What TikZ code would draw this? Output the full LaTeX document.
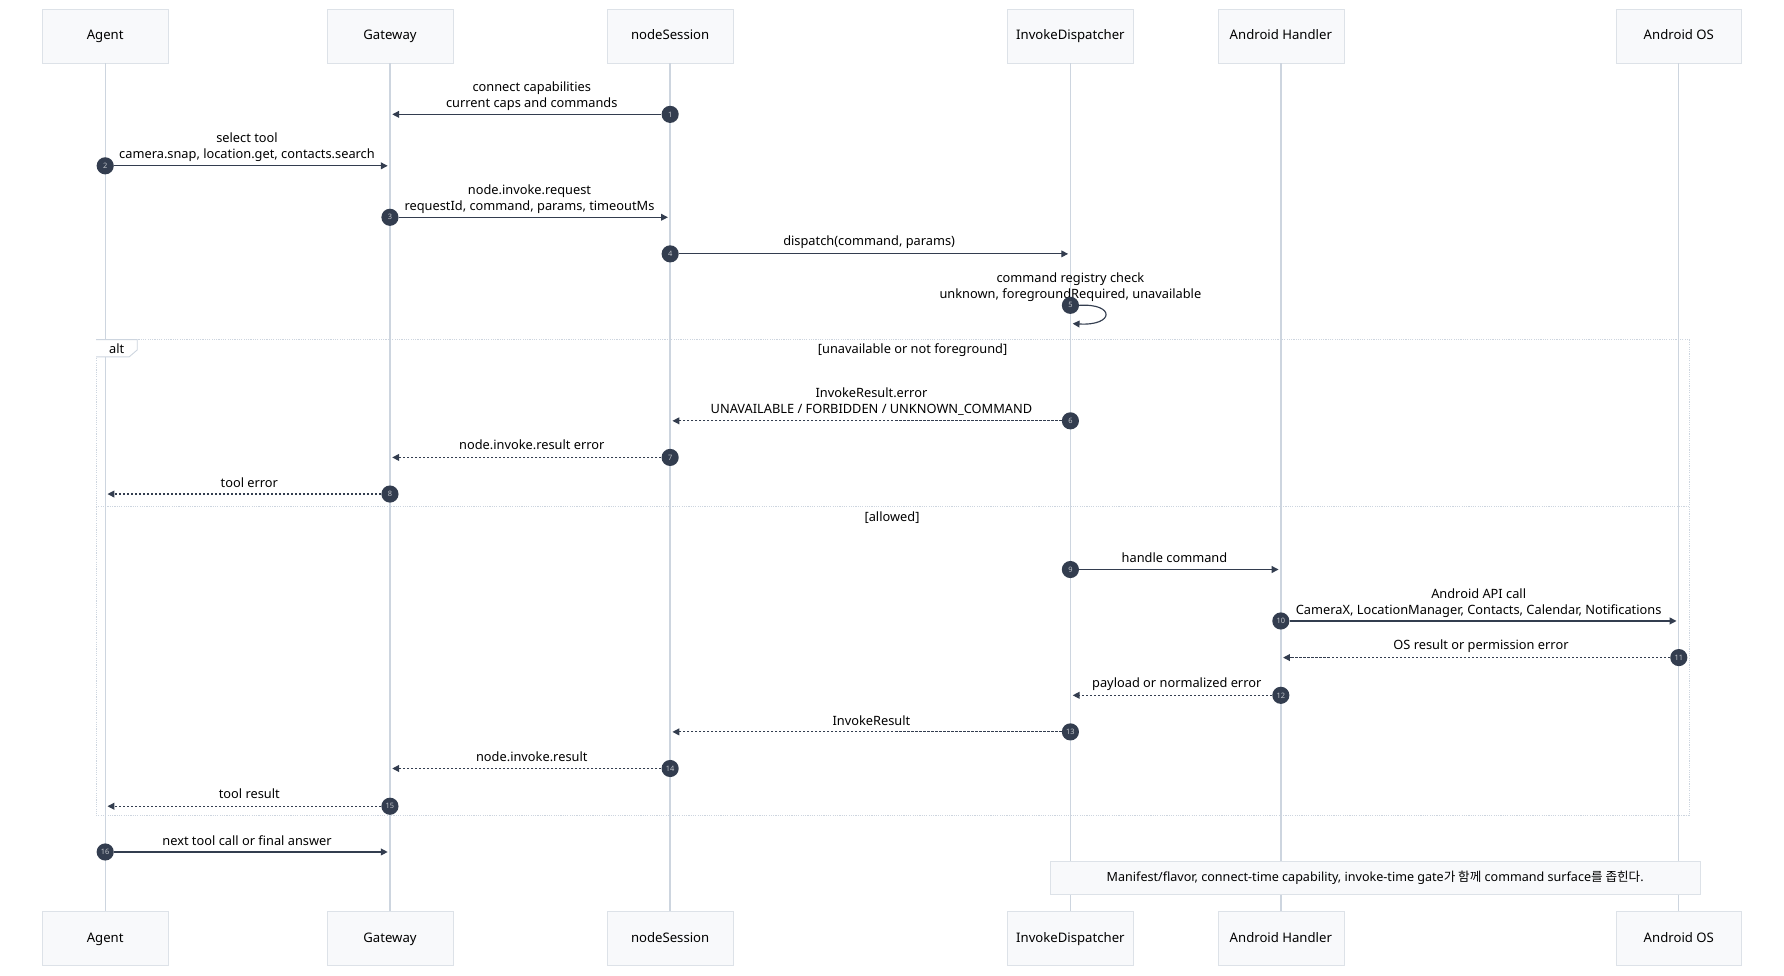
\documentclass[tikz,border=0pt]{standalone}
\usepackage{fontspec}
\setmainfont{Noto Sans}
\newfontfamily\cjk{Noto Sans CJK KR}
\usetikzlibrary{arrows.meta}
\definecolor{boxfill}{HTML}{F8F9FB}
\definecolor{boxline}{HTML}{DDE2E8}
\definecolor{life}{HTML}{CDD5DF}
\definecolor{ink}{HTML}{333D4F}
\begin{document}
\begin{tikzpicture}[x=1pt,y=-1pt,
  actor/.style={draw=boxline,fill=boxfill,minimum width=110pt,minimum height=47pt,font=\fontsize{11.5}{13}\selectfont,inner sep=0pt,text height=1.6ex,text depth=0.4ex},
  lifeline/.style={draw=life,line width=1.2pt},
  msg/.style={draw=ink,line width=1pt,-{Triangle[length=6pt,width=6pt]}},
  rmsg/.style={msg,dash pattern=on 2pt off 1.5pt},
  num/.style={circle,fill=ink,inner sep=0pt,minimum size=15pt,text=white!70!ink,font=\fontsize{6.5}{6.5}\selectfont},
  lbl/.style={font=\fontsize{11.2}{14}\selectfont,align=center,inner sep=0pt},
  frameline/.style={draw=life,dash pattern=on 1pt off 1pt,line width=0.8pt}]
\useasboundingbox (0,0) rectangle (1560,853);
% actors
\foreach \n/\x/\t in {a/92/Agent,g/341/Gateway,s/586/nodeSession,d/936/InvokeDispatcher,h/1120/Android Handler,o/1468/Android OS}{
  \node[actor] (\n T) at (\x,31.5) {\t};
  \node[actor] (\n B) at (\x,820.5) {\t};
  \draw[lifeline] (\n T.south) -- (\n B.north);
}
% alt frame
\draw[frameline] (84,297) rectangle (1477,713);
\draw[frameline] (84,443) -- (1477,443);
\draw[draw=life,fill=white,line width=0.8pt] (84,297) -- (120,297) -- (120,306) -- (113,312) -- (84,312);
\node[lbl] (altl) at (102,305) {alt};
\node[lbl] (c1) at (798,306) {[unavailable or not foreground]};
\node[lbl] (c2) at (780,453) {[allowed]};
% messages
\newcommand{\mymsg}[6]{% style, fromx, tox, y, num, label
  \node[num] (n#5) at (#2,#4) {#5};
  \coordinate (e#5) at (#3,#4);
  \draw[#1] (n#5) -- (e#5);
}
\mymsg{msg}{586}{343}{100}{1}{}
\node[lbl] (l1) at (465,84) {connect capabilities\\current caps and commands};
\mymsg{msg}{92}{339}{145}{2}{}
\node[lbl] (l2) at (216,129) {select tool\\camera.snap, location.get, contacts.search};
\mymsg{msg}{341}{584}{190}{3}{}
\node[lbl] (l3) at (463,174) {node.invoke.request\\requestId, command, params, timeoutMs};
\mymsg{msg}{586}{934}{222}{4}{}
\node[lbl] (l4) at (760,212) {dispatch(command, params)};
\node[lbl] (l5) at (936,251) {command registry check\\unknown, foregroundRequired, unavailable};
\node[num] (n5) at (936,267) {5};
\coordinate (e5) at (938,283);
\draw[msg] (n5.east) .. controls (975,265) and (975,285) .. (e5);
\mymsg{rmsg}{936}{588}{368}{6}{}
\node[lbl] (l6) at (762,351) {InvokeResult.error\\UNAVAILABLE / FORBIDDEN / UNKNOWN\_COMMAND};
\mymsg{rmsg}{586}{343}{400}{7}{}
\node[lbl] (l7) at (465,389) {node.invoke.result error};
\mymsg{rmsg}{341}{94}{432}{8}{}
\node[lbl] (l8) at (218,422) {tool error};
\mymsg{msg}{936}{1118}{498}{9}{}
\node[lbl] (l9) at (1027,488) {handle command};
\mymsg{msg}{1120}{1466}{543}{10}{}
\node[lbl] (l10) at (1293,527) {Android API call\\CameraX, LocationManager, Contacts, Calendar, Notifications};
\mymsg{rmsg}{1468}{1122}{575}{11}{}
\node[lbl] (l11) at (1295,565) {OS result or permission error};
\mymsg{rmsg}{1120}{938}{608}{12}{}
\node[lbl] (l12) at (1029,598) {payload or normalized error};
\mymsg{rmsg}{936}{588}{640}{13}{}
\node[lbl] (l13) at (762,630) {InvokeResult};
\mymsg{rmsg}{586}{343}{672}{14}{}
\node[lbl] (l14) at (465,662) {node.invoke.result};
\mymsg{rmsg}{341}{94}{705}{15}{}
\node[lbl] (l15) at (218,694) {tool result};
\mymsg{msg}{92}{339}{745}{16}{}
\node[lbl] (l16) at (216,735) {next tool call or final answer};
% note
\node[draw=boxline,fill=boxfill,minimum width=569pt,minimum height=29pt,font=\fontsize{11}{13}\selectfont,inner sep=0pt] (note) at (1202.5,767.5)
  {Manifest/flavor, connect-time capability, invoke-time gate{\cjk 가 함께} command surface{\cjk 를 좁힌다}.};
\end{tikzpicture}
\end{document}
